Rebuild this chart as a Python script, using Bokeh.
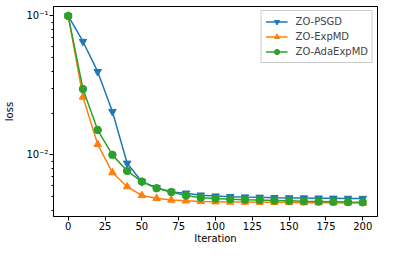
from bokeh.plotting import figure
from bokeh.embed import file_html
from bokeh.resources import INLINE
from bokeh.models import FixedTicker, CustomJSTickFormatter, Legend, LegendItem, Range1d

iterations = [0, 10, 20, 30, 40, 50, 60, 70, 80, 90, 100, 110, 120, 130, 140, 150, 160, 170, 180, 190, 200]
psgd = [0.1, 0.0655, 0.0397, 0.0205, 0.0087, 0.0064, 0.0058, 0.0054, 0.0053, 0.00513, 0.00505, 0.005, 0.00497,
        0.00495, 0.00492, 0.0049, 0.00489, 0.00488, 0.00487, 0.00486, 0.00485]
expmd = [0.1, 0.0261, 0.0119, 0.00746, 0.0059, 0.0051, 0.00487, 0.00473, 0.00467, 0.00462, 0.0046, 0.00458,
         0.00457, 0.00456, 0.00455, 0.00454, 0.00453, 0.00452, 0.00452, 0.00451, 0.0045]
adaexpmd = [0.1, 0.0298, 0.0151, 0.01, 0.00766, 0.00642, 0.00575, 0.0054, 0.0051, 0.00492, 0.00485, 0.0048,
            0.00476, 0.00473, 0.0047, 0.00467, 0.00464, 0.00462, 0.0046, 0.00457, 0.00455]

x_ticks = [0, 25, 50, 75, 100, 125, 150, 175, 200]
y_major = [0.01, 0.1]
y_minor = [0.004, 0.005, 0.006, 0.007, 0.008, 0.009, 0.02, 0.03, 0.04, 0.05, 0.06, 0.07, 0.08, 0.09]

p = figure(width=378, height=246, y_axis_type="log", output_backend="svg", toolbar_location=None,
           x_range=Range1d(-10, 210), y_range=Range1d(0.0036, 0.117),
           min_border_left=53, min_border_right=1, min_border_top=6, min_border_bottom=18)

p.xgrid.visible = False
p.ygrid.visible = False
p.outline_line_color = "black"
p.outline_line_alpha = 1
p.outline_line_width = 1

font = "DejaVu Sans"
for ax in [p.xaxis, p.yaxis]:
    ax.axis_line_color = "black"
    ax.major_tick_line_color = "black"
    ax.minor_tick_line_color = "black"
    ax.major_tick_in = 0
    ax.major_tick_out = 4
    ax.minor_tick_in = 0
    ax.minor_tick_out = 2
    ax.major_label_text_font = font
    ax.major_label_text_font_size = "10px"
    ax.major_label_text_color = "black"
    ax.axis_label_text_font = font
    ax.axis_label_text_font_size = "10px"
    ax.axis_label_text_font_style = "normal"
    ax.axis_label_text_color = "black"
    ax.major_label_standoff = 1
    ax.axis_label_standoff = 0

p.yaxis.axis_label_standoff = 8
p.xaxis.ticker = FixedTicker(ticks=x_ticks)
p.xaxis.axis_label = "Iteration"
p.yaxis.ticker = FixedTicker(ticks=y_major, minor_ticks=y_minor)
p.yaxis.formatter = CustomJSTickFormatter(code="""
const e = Math.round(Math.log10(tick));
const sup = {'-':'\u207b','0':'\u2070','1':'\u00b9','2':'\u00b2','3':'\u00b3'};
return '10' + String(e).split('').map(c => sup[c]).join('');
""")
p.yaxis.axis_label = "loss"

series = [("ZO-PSGD", psgd, "#1f77b4", "inverted_triangle"),
          ("ZO-ExpMD", expmd, "#ff7f0e", "triangle"),
          ("ZO-AdaExpMD", adaexpmd, "#2ca02c", "circle")]
items = []
for name, ys, color, marker in series:
    r1 = p.line(iterations, ys, line_color=color, line_width=1.5)
    r2 = p.scatter(iterations, ys, marker=marker, size=7.5, fill_color=color, line_color=color)
    items.append(LegendItem(label=name, renderers=[r1, r2]))

legend = Legend(items=items, location="top_right")
legend.label_text_font = font
legend.label_text_font_size = "10px"
legend.border_line_color = "#cccccc"
legend.border_line_alpha = 1
legend.background_fill_alpha = 0.8
legend.glyph_width = 22
legend.glyph_height = 13
legend.spacing = 2
legend.padding = 4
legend.margin = 4
legend.label_standoff = 8
legend.label_height = 13
p.add_layout(legend)

open("out.html", "w").write(file_html(p, INLINE))
